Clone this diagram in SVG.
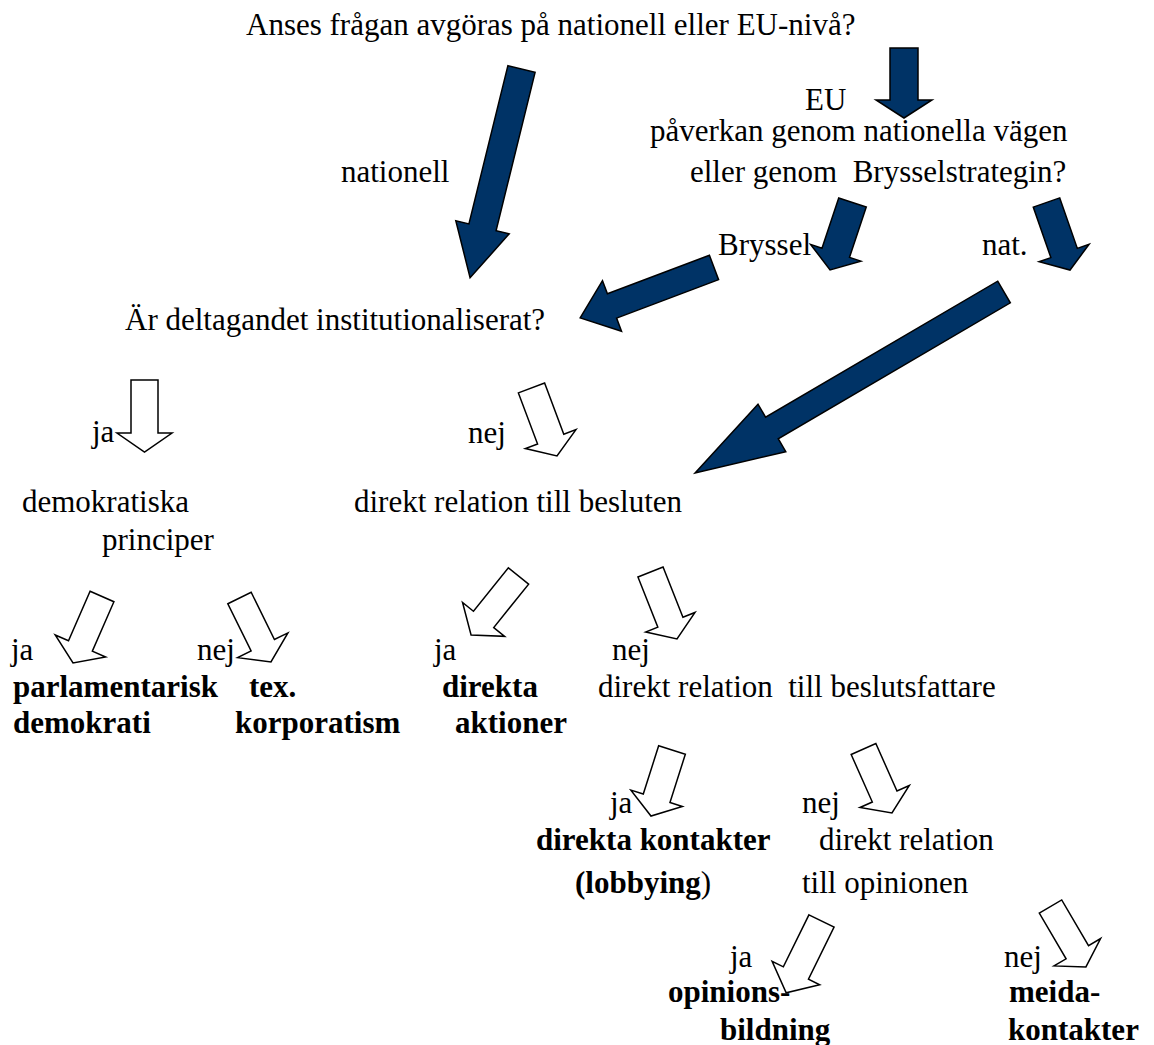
<svg xmlns="http://www.w3.org/2000/svg" width="1154" height="1045" viewBox="0 0 1154 1045">
<style>
text{font-family:'Liberation Serif','DejaVu Serif',serif;font-size:31px;fill:#000;white-space:pre}
.b{font-weight:bold}
.dk{fill:#003366;stroke:#000;stroke-width:1.5;stroke-linejoin:miter}
.ol{fill:#fff;stroke:#000;stroke-width:1.5;stroke-linejoin:miter}
</style>
<rect width="1154" height="1045" fill="#fff"/>
<g id="connectors">
<polygon class="dk" transform="translate(521.5,69) rotate(13.84)" points="-14,0 14,0 14,163 27.5,163 0,215 -27.5,163 -14,163"/>
<polygon class="dk" transform="translate(904,48)" points="-14,0 14,0 14,52 28,52 0,70 -28,52 -14,52"/>
<polygon class="dk" transform="translate(714,267.5) rotate(69.35)" points="-13,0 13,0 13,109 27,109 0,143 -27,109 -13,109"/>
<polygon class="dk" transform="translate(852.5,202.5) rotate(18.43)" points="-14.5,0 14.5,0 14.5,53 26.5,53 0,71 -26.5,53 -14.5,53"/>
<polygon class="dk" transform="translate(1046.5,202.5) rotate(-19.2)" points="-14,0 14,0 14,53.5 26.5,53.5 0,71.5 -26.5,53.5 -14,53.5"/>
<polygon class="dk" transform="translate(1004,292) rotate(59.64)" points="-12.5,0 12.5,0 12.5,269 27.5,269 0,358 -27.5,269 -12.5,269"/>
<polygon class="ol" transform="translate(144.5,380)" points="-13.5,0 13.5,0 13.5,53 27.5,53 0,72 -27.5,53 -13.5,53"/>
<polygon class="ol" transform="translate(531.5,388) rotate(-20.56)" points="-14,0 14,0 14,54.6 27,54.6 0,72.6 -27,54.6 -14,54.6"/>
<polygon class="ol" transform="translate(102,596.5) rotate(23.56)" points="-13,0 13,0 13,54 27.5,54 0,72.5 -27.5,54 -13,54"/>
<polygon class="ol" transform="translate(239.5,598) rotate(-26.2)" points="-13,0 13,0 13,52.7 28,52.7 0,71.3 -28,52.7 -13,52.7"/>
<polygon class="ol" transform="translate(518.5,576) rotate(38.8)" points="-13,0 13,0 13,55.7 27,55.7 0,75.7 -27,55.7 -13,55.7"/>
<polygon class="ol" transform="translate(650.5,572) rotate(-21.6)" points="-13.5,0 13.5,0 13.5,54 26.5,54 0,72 -26.5,54 -13.5,54"/>
<polygon class="ol" transform="translate(672,750) rotate(17.65)" points="-14,0 14,0 14,50.7 27,50.7 0,69.3 -27,50.7 -14,50.7"/>
<polygon class="ol" transform="translate(863.5,749) rotate(-24)" points="-13.5,0 13.5,0 13.5,52 27,52 0,70 -27,52 -13.5,52"/>
<polygon class="ol" transform="translate(821.5,921) rotate(26.2)" points="-14,0 14,0 14,58 26.5,58 0,80 -26.5,58 -14,58"/>
<polygon class="ol" transform="translate(1050.5,906.5) rotate(-30.4)" points="-13,0 13,0 13,53 27,53 0,70 -27,53 -13,53"/>
</g>
<g id="q-level"><text x="246" y="35">Anses frågan avgöras på nationell eller EU-nivå?</text></g>
<g id="lbl-nationell"><text x="341" y="182">nationell</text></g>
<g id="lbl-eu"><text x="805" y="110">EU</text></g>
<g id="q-vag"><text x="650" y="141">påverkan genom nationella vägen</text><text x="690" y="182">eller genom  Brysselstrategin?</text></g>
<g id="lbl-bryssel"><text x="718" y="255">Bryssel</text></g>
<g id="lbl-nat"><text x="982" y="255">nat.</text></g>
<g id="q-inst"><text x="125" y="330">Är deltagandet institutionaliserat?</text></g>
<g id="lbl-ja1"><text x="92" y="442">ja</text></g>
<g id="lbl-nej1"><text x="468" y="443">nej</text></g>
<g id="q-demo"><text x="22" y="512">demokratiska</text><text x="102" y="550">principer</text></g>
<g id="q-beslut"><text x="354" y="512">direkt relation till besluten</text></g>
<g id="lbl-ja2"><text x="11" y="660">ja</text></g>
<g id="lbl-nej2"><text x="197" y="660">nej</text></g>
<g id="lbl-ja3"><text x="434" y="660">ja</text></g>
<g id="lbl-nej3"><text x="612" y="660">nej</text></g>
<g id="n-parl"><text class="b" x="13" y="697">parlamentarisk</text><text class="b" x="13" y="733">demokrati</text></g>
<g id="n-korp"><text class="b" x="249" y="697">tex.</text><text class="b" x="235" y="733">korporatism</text></g>
<g id="n-aktioner"><text class="b" x="442" y="697">direkta</text><text class="b" x="455" y="733">aktioner</text></g>
<g id="q-fattare"><text x="598" y="697">direkt relation  till beslutsfattare</text></g>
<g id="lbl-ja4"><text x="610" y="813">ja</text></g>
<g id="lbl-nej4"><text x="802" y="813">nej</text></g>
<g id="n-lobby"><text class="b" x="536" y="850">direkta kontakter</text><text x="575" y="893"><tspan class="b">(lobbying</tspan>)</text></g>
<g id="q-opinion"><text x="819" y="850">direkt relation</text><text x="802" y="893">till opinionen</text></g>
<g id="lbl-ja5"><text x="730" y="967">ja</text></g>
<g id="lbl-nej5"><text x="1004" y="967">nej</text></g>
<g id="n-opinionsbildning"><text class="b" x="668" y="1002">opinions-</text><text class="b" x="720" y="1040">bildning</text></g>
<g id="n-media"><text class="b" x="1009" y="1002">meida-</text><text class="b" x="1008" y="1040">kontakter</text></g>
</svg>
